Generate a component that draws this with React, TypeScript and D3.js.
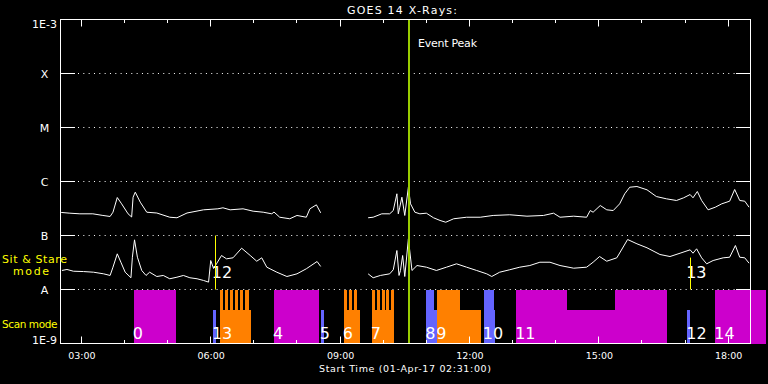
import React from "react";
import * as d3 from "d3";

const W = 768;
const H = 384;

const startTime = "02:31";
const endTime = "18:31";
const title = "GOES 14 X-Rays:";
const xTitle = "Start Time (01-Apr-17 02:31:00)";

const levelLabels = ["1E-9", "A", "B", "C", "M", "X", "1E-3"];
const levelFlux = [1e-9, 1e-8, 1e-7, 1e-6, 1e-5, 1e-4, 1e-3];
const gridFlux = [1e-8, 1e-7, 1e-6, 1e-5, 1e-4];
const hourTicks = [3, 4, 5, 6, 7, 8, 9, 10, 11, 12, 13, 14, 15, 16, 17, 18];
const tickLabels = ["03:00", "06:00", "09:00", "12:00", "15:00", "18:00"];

// long channel (1-8 A), W/m^2
const longChannel: [string, number | null][] = [
  ["02:32", 2.67e-7], ["02:44", 2.59e-7], ["02:58", 2.52e-7], ["03:16", 2.52e-7],
  ["03:30", 2.35e-7], ["03:40", 2.25e-7], ["03:44", 2.7e-7], ["03:50", 5.05e-7],
  ["03:56", 3.86e-7], ["04:05", 2.52e-7], ["04:10", 2.2e-7], ["04:12", 5.12e-7],
  ["04:15", 6.34e-7], ["04:22", 4.14e-7], ["04:31", 2.7e-7], ["04:45", 2.61e-7],
  ["05:03", 2.18e-7], ["05:13", 2.13e-7], ["05:27", 2.61e-7], ["05:50", 2.99e-7],
  ["06:10", 3.12e-7], ["06:17", 3.26e-7], ["06:27", 2.99e-7], ["06:45", 3.12e-7],
  ["06:59", 2.82e-7], ["07:13", 2.7e-7], ["07:25", 2.52e-7], ["07:28", 2.72e-7],
  ["07:36", 2.18e-7], ["07:50", 2.04e-7], ["08:00", 2.35e-7], ["08:13", 2.18e-7],
  ["08:18", 3.12e-7], ["08:27", 3.7e-7], ["08:33", 2.63e-7],
  ["09:00", null],
  ["09:39", 2.13e-7], ["09:46", 2.18e-7], ["09:58", 2.52e-7], ["10:09", 2.52e-7],
  ["10:14", 2.9e-7], ["10:19", 5.92e-7], ["10:21", 2.52e-7], ["10:23", 3.34e-7],
  ["10:26", 5.12e-7], ["10:30", 2.35e-7], ["10:35", 7.84e-7], ["10:38", 3.86e-7],
  ["10:44", 2.7e-7], ["10:51", 2.52e-7], ["11:00", 2.59e-7], ["11:10", 2.13e-7],
  ["11:19", 1.9e-7], ["11:27", 1.76e-7], ["11:38", 2.04e-7], ["11:56", 2.18e-7],
  ["12:15", 2.18e-7], ["12:33", 2.35e-7], ["12:56", 2.42e-7], ["13:20", 2.28e-7],
  ["13:43", 2.35e-7], ["13:57", 2.59e-7], ["14:06", 2.18e-7], ["14:25", 2.28e-7],
  ["14:43", 2.18e-7], ["14:48", 2.9e-7], ["14:52", 2.7e-7], ["15:02", 3.59e-7],
  ["15:11", 2.99e-7], ["15:20", 2.9e-7], ["15:29", 3.86e-7], ["15:36", 5.92e-7],
  ["15:43", 7.84e-7], ["15:53", 8.08e-7], ["16:07", 7.02e-7], ["16:20", 5.27e-7],
  ["16:34", 4.78e-7], ["16:48", 4.45e-7], ["16:58", 4.99e-7], ["17:07", 5.74e-7],
  ["17:11", 4.99e-7], ["17:17", 6.53e-7], ["17:23", 4.45e-7], ["17:32", 2.99e-7],
  ["17:42", 3.34e-7], ["17:51", 3.86e-7], ["18:02", 4.32e-7], ["18:09", 7.11e-7],
  ["18:16", 4.45e-7], ["18:23", 4.32e-7], ["18:29", 3.34e-7],
];

// short channel (0.5-4 A), W/m^2
const shortChannel: [string, number | null][] = [
  ["02:33", 2.25e-8], ["02:40", 2.35e-8], ["02:49", 2.18e-8], ["03:03", 2.15e-8],
  ["03:17", 2.09e-8], ["03:31", 1.95e-8], ["03:40", 1.82e-8], ["03:44", 2.59e-8],
  ["03:50", 4.58e-8], ["03:55", 3.2e-8], ["04:01", 2.09e-8], ["04:09", 1.65e-8],
  ["04:11", 3.96e-8], ["04:14", 8.32e-8], ["04:18", 3.96e-8], ["04:24", 2.25e-8],
  ["04:30", 1.82e-8], ["04:35", 2.09e-8], ["04:45", 1.74e-8], ["04:54", 1.82e-8],
  ["05:03", 1.58e-8], ["05:13", 1.69e-8], ["05:22", 1.82e-8], ["05:31", 1.65e-8],
  ["05:41", 1.58e-8], ["05:50", 1.47e-8], ["05:57", 1.37e-8], ["06:00", 3.44e-8],
  ["06:04", 2.45e-8], ["06:08", 2.99e-8], ["06:15", 4.26e-8], ["06:22", 3.7e-8],
  ["06:31", 3.86e-8], ["06:43", 5.82e-8], ["06:55", 4.26e-8], ["07:04", 3.34e-8],
  ["07:11", 3.86e-8], ["07:18", 2.59e-8], ["07:32", 2.09e-8], ["07:46", 1.74e-8],
  ["08:00", 1.95e-8], ["08:13", 2.42e-8], ["08:28", 3.3e-8], ["08:33", 2.67e-8],
  ["09:00", null],
  ["09:39", 1.95e-8], ["09:46", 1.65e-8], ["09:56", 1.82e-8], ["10:09", 1.95e-8],
  ["10:14", 2.32e-8], ["10:19", 5.27e-8], ["10:22", 1.82e-8], ["10:24", 2.25e-8],
  ["10:27", 4.26e-8], ["10:30", 1.74e-8], ["10:35", 8.69e-8], ["10:40", 2.25e-8],
  ["10:47", 2.78e-8], ["11:00", 2.59e-8], ["11:14", 2.25e-8], ["11:28", 2.59e-8],
  ["11:42", 2.99e-8], ["11:56", 2.59e-8], ["12:10", 2.25e-8], ["12:24", 1.95e-8],
  ["12:31", 1.74e-8], ["12:42", 2.09e-8], ["12:56", 2.32e-8], ["13:10", 2.59e-8],
  ["13:24", 2.78e-8], ["13:38", 3.2e-8], ["13:52", 3.2e-8], ["14:06", 2.78e-8],
  ["14:25", 2.48e-8], ["14:43", 2.59e-8], ["14:52", 3.2e-8], ["15:01", 4.08e-8],
  ["15:11", 3.34e-8], ["15:25", 3.86e-8], ["15:40", 8.43e-8], ["15:53", 7.02e-8],
  ["16:07", 5.92e-8], ["16:25", 4.45e-8], ["16:39", 4.08e-8], ["16:53", 4.7e-8],
  ["17:07", 5.43e-8], ["17:11", 4.7e-8], ["17:16", 5.67e-8], ["17:23", 3.86e-8],
  ["17:30", 2.99e-8], ["17:39", 3.44e-8], ["17:53", 3.86e-8], ["18:02", 3.96e-8],
  ["18:10", 6.53e-8], ["18:16", 3.96e-8], ["18:23", 3.86e-8], ["18:29", 3.07e-8],
];

// scan-mode observations: [start, end, kind, top flux]
const scanBars: [string, string, string, number][] = [
  ["04:13", "05:12", "raster", 1e-8],
  ["06:03", "06:07", "cal", 4.2e-9],
  ["06:13", "06:56", "scan", 4.2e-9],
  ["06:13", "06:17", "scan", 1e-8],
  ["06:20", "06:24", "scan", 1e-8],
  ["06:27", "06:31", "scan", 1e-8],
  ["06:34", "06:38", "scan", 1e-8],
  ["06:41", "06:45", "scan", 1e-8],
  ["06:48", "06:53", "scan", 1e-8],
  ["07:28", "08:31", "raster", 1e-8],
  ["08:33", "08:38", "cal", 4.2e-9],
  ["09:05", "09:28", "scan", 4.2e-9],
  ["09:06", "09:10", "scan", 1e-8],
  ["09:12", "09:16", "scan", 1e-8],
  ["09:19", "09:23", "scan", 1e-8],
  ["09:44", "10:15", "scan", 4.2e-9],
  ["09:45", "09:49", "scan", 1e-8],
  ["09:51", "09:55", "scan", 1e-8],
  ["09:58", "10:02", "scan", 1e-8],
  ["10:04", "10:08", "scan", 1e-8],
  ["10:11", "10:15", "scan", 1e-8],
  ["11:00", "11:15", "cal", 4.2e-9],
  ["11:00", "11:11", "cal", 1e-8],
  ["11:15", "12:16", "scan", 4.2e-9],
  ["11:15", "11:47", "scan", 1e-8],
  ["12:20", "12:36", "cal", 4.2e-9],
  ["12:20", "12:34", "cal", 1e-8],
  ["13:05", "16:35", "raster", 4.2e-9],
  ["13:05", "14:16", "raster", 1e-8],
  ["15:23", "16:35", "raster", 1e-8],
  ["17:03", "17:07", "cal", 4.2e-9],
  ["17:42", "18:52", "raster", 1e-8],
];

const scanLabels: [string, string][] = [
  ["0", "04:13"], ["13", "06:03"], ["4", "07:28"], ["5", "08:33"], ["6", "09:05"],
  ["7", "09:44"], ["8", "11:00"], ["9", "11:15"], ["10", "12:20"], ["11", "13:05"],
  ["12", "17:03"], ["14", "17:42"],
];

// sit & stare observations: [label, time, top flux]
const stareMarks: [string, string, number][] = [
  ["12", "06:07", 1e-7],
  ["13", "17:07", 3.9e-8],
];

const eventPeak = "10:36";

const kindColor: Record<string, string> = {
  raster: "#cc00cc",
  scan: "#ff8000",
  cal: "#6464ff",
};

const parseT = (s: string) => {
  const [h, m] = s.split(":").map(Number);
  return h + m / 60;
};

const FONT = "'DejaVu Sans', sans-serif";

export default function App() {
  const x = d3.scaleLinear().domain([parseT(startTime), parseT(endTime)]).range([60.5, 750.5]);
  const y = d3.scaleLog().domain([1e-9, 1e-3]).range([343.5, 19.5]);
  const px = (v: number) => Math.round(v - 0.5) + 0.5;

  const line = d3
    .line<[string, number | null]>()
    .defined((d) => d[1] != null)
    .x((d) => x(parseT(d[0])))
    .y((d) => y(d[1] as number));

  const left = 60.5;
  const right = 750.5;
  const top = y(1e-3);
  const bottom = y(1e-9);

  return (
    <svg
      width={W}
      height={H}
      style={{ position: "absolute", left: 0, top: 0, display: "block" }}
      fontFamily={FONT}
    >
      <rect x={0} y={0} width={W} height={H} fill="#000" />

      {/* dotted grid */}
      {gridFlux.map((f) => (
        <line key={"g" + f} x1={78} x2={736} y1={px(y(f))} y2={px(y(f))}
          stroke="#fff" strokeWidth={1} strokeDasharray="1 4.33" />
      ))}

      {/* scan-mode bars */}
      <g shapeRendering="crispEdges">
        {scanBars.map(([s, e, k, f], i) => (
          <rect key={"b" + i} x={x(parseT(s))} y={y(f)} width={x(parseT(e)) - x(parseT(s))}
            height={bottom - y(f)} fill={kindColor[k]} />
        ))}
      </g>

      {/* curves */}
      <path d={line(longChannel) || ""} fill="none" stroke="#fff" strokeWidth={1} />
      <path d={line(shortChannel) || ""} fill="none" stroke="#fff" strokeWidth={1} />

      {/* sit & stare markers */}
      {stareMarks.map(([lab, t, f]) => (
        <g key={"s" + lab}>
          <text x={x(parseT(t)) - 4} y={278} fill="#fff" fontSize={16}>{lab}</text>
          <line x1={px(x(parseT(t)))} x2={px(x(parseT(t)))} y1={y(f)} y2={y(1e-8)}
            stroke="#ffff00" strokeWidth={1} />
        </g>
      ))}

      {/* scan labels */}
      {scanLabels.map(([lab, t]) => (
        <text key={"l" + lab} x={x(parseT(t)) - 1} y={339} fill="#fff" fontSize={16}>{lab}</text>
      ))}

      {/* event peak */}
      <rect x={x(parseT(eventPeak)) - 1} y={top - 0.5} width={2} height={bottom - top + 0.5}
        fill="#99cc00" shapeRendering="crispEdges" />
      <text x={418} y={46.5} fill="#fff" fontSize={11} textLength={59} lengthAdjust="spacing">Event Peak</text>

      {/* frame */}
      <rect x={left} y={top} width={right - left} height={bottom - top} fill="none" stroke="#fff" strokeWidth={1} />

      {/* y ticks */}
      {gridFlux.map((f) => (
        <g key={"t" + f}>
          <line x1={left} x2={75} y1={px(y(f))} y2={px(y(f))} stroke="#fff" />
          <line x1={736} x2={right} y1={px(y(f))} y2={px(y(f))} stroke="#fff" />
        </g>
      ))}

      {/* x ticks */}
      {hourTicks.map((h) => {
        const major = h % 3 === 0;
        const len = major ? 7 : 3.5;
        const xx = px(x(h));
        return (
          <g key={"h" + h}>
            <line x1={xx} x2={xx} y1={top} y2={top + len} stroke="#fff" />
            <line x1={xx} x2={xx} y1={bottom} y2={bottom - len} stroke="#fff" />
          </g>
        );
      })}

      {/* x tick labels */}
      {tickLabels.map((l) => (
        <text key={"x" + l} x={x(parseT(l)) + 0.5} y={358.5} fill="#fff" fontSize={9.5} textAnchor="middle">{l}</text>
      ))}

      {/* y labels */}
      {levelLabels.map((l, i) => {
        const yy = y(levelFlux[i]);
        const base = i === levelLabels.length - 1 ? yy + 8 : i === 0 ? yy : yy + 4;
        return (
          <text key={"y" + l} x={44.5} y={base} fill="#fff" fontSize={11} textAnchor="middle">{l}</text>
        );
      })}

      {/* titles */}
      <text x={402} y={14} fill="#fff" fontSize={11} textAnchor="middle" textLength={110} lengthAdjust="spacing">{title}</text>
      <text x={405} y={371.5} fill="#fff" fontSize={9.5} textAnchor="middle" textLength={172} lengthAdjust="spacing">{xTitle}</text>

      {/* mode legend */}
      <text x={2} y={263.3} fill="#ffff00" fontSize={11} textLength={65} lengthAdjust="spacing">Sit &amp; Stare</text>
      <text x={13} y={275} fill="#ffff00" fontSize={11} textLength={36} lengthAdjust="spacing">mode</text>
      <text x={2} y={328.3} fill="#ffff00" fontSize={10.5} letterSpacing={-0.4}>Scan mode</text>
    </svg>
  );
}
